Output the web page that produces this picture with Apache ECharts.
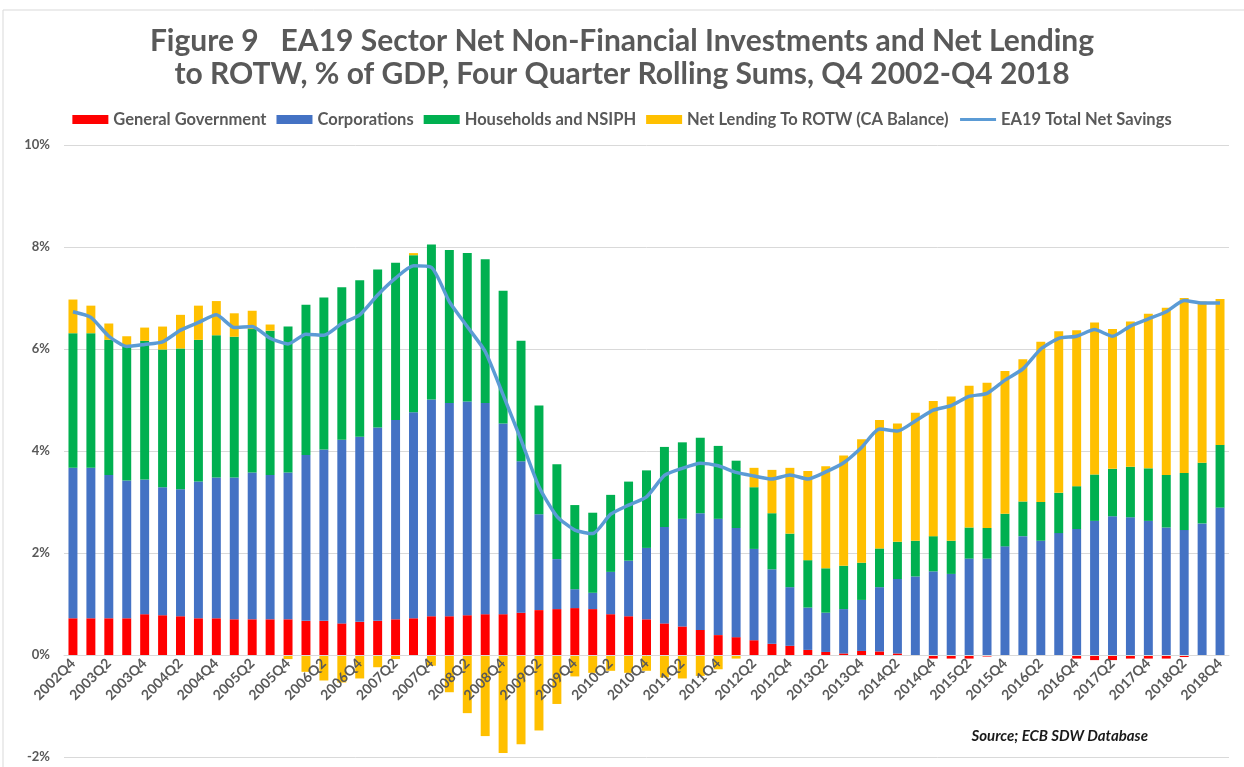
<!DOCTYPE html>
<html lang="en">
<head>
  <meta charset="UTF-8">
  <title>EA19 Sector Net Lending</title>
  <style>
    html, body { margin: 0; padding: 0; width: 100%; height: 100%; background: #fff; }
    #main { width: 1244px; height: 767px; }
  </style>
</head>
<body>
  <div id="main"></div>
  <script src="https://cdn.jsdelivr.net/npm/echarts@6/dist/echarts.min.js"></script>
  <script type="text/javascript">
    // quarters 2002Q4 .. 2018Q4
    const quarters = [
      '2002Q4',
      '2003Q1', '2003Q2', '2003Q3', '2003Q4',
      '2004Q1', '2004Q2', '2004Q3', '2004Q4',
      '2005Q1', '2005Q2', '2005Q3', '2005Q4',
      '2006Q1', '2006Q2', '2006Q3', '2006Q4',
      '2007Q1', '2007Q2', '2007Q3', '2007Q4',
      '2008Q1', '2008Q2', '2008Q3', '2008Q4',
      '2009Q1', '2009Q2', '2009Q3', '2009Q4',
      '2010Q1', '2010Q2', '2010Q3', '2010Q4',
      '2011Q1', '2011Q2', '2011Q3', '2011Q4',
      '2012Q1', '2012Q2', '2012Q3', '2012Q4',
      '2013Q1', '2013Q2', '2013Q3', '2013Q4',
      '2014Q1', '2014Q2', '2014Q3', '2014Q4',
      '2015Q1', '2015Q2', '2015Q3', '2015Q4',
      '2016Q1', '2016Q2', '2016Q3', '2016Q4',
      '2017Q1', '2017Q2', '2017Q3', '2017Q4',
      '2018Q1', '2018Q2', '2018Q3', '2018Q4'
    ];

    const generalGovernment = [
      0.72,
      0.72, 0.72, 0.72, 0.80,
      0.78, 0.76, 0.72, 0.72,
      0.70, 0.70, 0.70, 0.70,
      0.67, 0.67, 0.62, 0.65,
      0.67, 0.70, 0.72, 0.76,
      0.76, 0.78, 0.80, 0.80,
      0.83, 0.88, 0.90, 0.92,
      0.90, 0.80, 0.76, 0.70,
      0.62, 0.56, 0.49, 0.39,
      0.35, 0.29, 0.22, 0.18,
      0.10, 0.06, 0.03, 0.08,
      0.07, 0.03, -0.02, -0.07,
      -0.07, -0.07, -0.03, 0.00,
      0.00, 0.00, -0.02, -0.07,
      -0.10, -0.10, -0.07, -0.07,
      -0.07, -0.04, -0.02, 0.00
    ];

    const corporations = [
      2.95,
      2.95, 2.81, 2.70, 2.64,
      2.51, 2.49, 2.68, 2.76,
      2.78, 2.88, 2.83, 2.88,
      3.25, 3.36, 3.60, 3.63,
      3.79, 3.91, 4.04, 4.25,
      4.18, 4.19, 4.14, 3.74,
      2.97, 1.88, 0.98, 0.37,
      0.32, 0.83, 1.09, 1.40,
      1.89, 2.11, 2.29, 2.28,
      2.14, 1.79, 1.46, 1.15,
      0.83, 0.77, 0.87, 1.00,
      1.26, 1.46, 1.54, 1.64,
      1.59, 1.89, 1.89, 2.13,
      2.33, 2.24, 2.39, 2.47,
      2.63, 2.72, 2.70, 2.63,
      2.50, 2.45, 2.58, 2.89
    ];

    const households = [
      2.64,
      2.64, 2.65, 2.63, 2.72,
      2.70, 2.76, 2.78, 2.79,
      2.76, 2.81, 2.83, 2.86,
      2.95, 2.98, 2.99, 3.07,
      3.10, 3.08, 3.08, 3.04,
      3.00, 2.91, 2.82, 2.60,
      2.36, 2.13, 1.86, 1.65,
      1.57, 1.51, 1.55, 1.52,
      1.57, 1.50, 1.48, 1.43,
      1.32, 1.21, 1.10, 1.05,
      0.93, 0.87, 0.85, 0.73,
      0.76, 0.73, 0.70, 0.69,
      0.65, 0.61, 0.60, 0.64,
      0.68, 0.76, 0.79, 0.84,
      0.91, 0.93, 0.99, 1.03,
      1.03, 1.12, 1.19, 1.23
    ];

    const netLendingROTW = [
      0.66,
      0.54, 0.32, 0.20, 0.26,
      0.45, 0.66, 0.67, 0.67,
      0.46, 0.36, 0.12, -0.08,
      -0.33, -0.50, -0.54, -0.46,
      -0.24, -0.08, 0.04, -0.21,
      -0.73, -1.14, -1.59, -1.92,
      -1.75, -1.48, -0.96, -0.42,
      -0.35, -0.31, -0.35, -0.31,
      -0.44, -0.46, -0.41, -0.28,
      -0.07, 0.38, 0.85, 1.29,
      1.75, 2.00, 2.16, 2.42,
      2.52, 2.32, 2.51, 2.65,
      2.83, 2.78, 2.85, 2.80,
      2.79, 3.14, 3.17, 3.06,
      2.98, 2.74, 2.85, 3.03,
      3.28, 3.43, 3.16, 2.86
    ];

    const totalNetSavings = [
      6.73,
      6.62, 6.25, 6.05, 6.09,
      6.14, 6.37, 6.52, 6.67,
      6.42, 6.44, 6.21, 6.10,
      6.29, 6.27, 6.50, 6.67,
      7.06, 7.39, 7.63, 7.60,
      6.93, 6.44, 5.95, 5.10,
      4.22, 3.30, 2.72, 2.45,
      2.38, 2.76, 2.94, 3.10,
      3.52, 3.66, 3.76, 3.71,
      3.58, 3.51, 3.45, 3.53,
      3.45, 3.59, 3.77, 4.07,
      4.43, 4.39, 4.59, 4.80,
      4.89, 5.07, 5.13, 5.39,
      5.61, 6.00, 6.21, 6.25,
      6.38, 6.25, 6.45, 6.59,
      6.73, 6.95, 6.90, 6.90
    ];

    const textColor = '#595959';
    const fontName = 'Lato, "Open Sans", sans-serif';

    const yMin = -2, yMax = 10;
    const gridTop = 145, gridBottom = 10;
    // move the category labels up so they sit on the 0% line
    const plotH = 767 - gridTop - gridBottom;
    const zeroOffset = -plotH * (0 - yMin) / (yMax - yMin);

    function barSeries(name, data, color) {
      return {
        name: name,
        type: 'bar',
        stack: 'sectors',
        data: data,
        barWidth: '50%',
        itemStyle: { color: color },
        z: 2
      };
    }

    var myChart = echarts.init(document.getElementById('main'));

    var option = {
      animation: false,
      backgroundColor: '#fff',
      title: {
        text: 'Figure 9   EA19 Sector Net Non-Financial Investments and Net Lending\nto ROTW, % of GDP, Four Quarter Rolling Sums, Q4 2002-Q4 2018',
        left: 'center',
        top: 20,
        textStyle: {
          color: textColor,
          fontFamily: fontName,
          fontWeight: 'bold',
          fontSize: 30,
          lineHeight: 33
        }
      },
      legend: {
        top: 106,
        left: 'center',
        itemWidth: 36,
        itemHeight: 9,
        itemGap: 10,
        textStyle: { color: textColor, fontFamily: fontName, fontSize: 16.5, fontWeight: 'bold' },
        data: [
          { name: 'General Government', icon: 'rect' },
          { name: 'Corporations', icon: 'rect' },
          { name: 'Households and NSIPH', icon: 'rect' },
          { name: 'Net Lending To ROTW (CA Balance)', icon: 'rect' },
          { name: 'EA19 Total Net Savings', itemStyle: { opacity: 0 }, lineStyle: { width: 3 } }
        ]
      },
      grid: {
        left: 64, right: 15, top: gridTop, bottom: gridBottom,
        containLabel: false, outerBoundsMode: 'none'
      },
      xAxis: {
        type: 'category',
        data: quarters,
        offset: zeroOffset,
        z: 10,
        axisLine: { onZero: false, lineStyle: { color: '#d9d9d9', width: 1 } },
        axisTick: { show: false },
        axisLabel: {
          interval: 1,
          rotate: 45,
          color: textColor,
          fontFamily: fontName,
          fontWeight: 'bold',
          fontSize: 14,
          margin: 6
        }
      },
      yAxis: {
        type: 'value',
        min: yMin,
        max: yMax,
        interval: 2,
        axisLine: { show: false },
        axisTick: { show: false },
        splitLine: { lineStyle: { color: '#d9d9d9', width: 1 } },
        axisLabel: {
          formatter: '{value}%',
          color: textColor,
          fontFamily: fontName,
          fontWeight: 'bold',
          fontSize: 13,
          margin: 14
        }
      },
      series: [
        barSeries('General Government', generalGovernment, '#ff0000'),
        barSeries('Corporations', corporations, '#4472c4'),
        barSeries('Households and NSIPH', households, '#00b050'),
        barSeries('Net Lending To ROTW (CA Balance)', netLendingROTW, '#ffc000'),
        {
          name: 'EA19 Total Net Savings',
          type: 'line',
          data: totalNetSavings,
          symbol: 'none',
          smooth: 0.2,
          lineStyle: { color: '#5b9bd5', width: 3.5 },
          itemStyle: { color: '#5b9bd5' },
          z: 5
        }
      ],
      graphic: [
        {
          type: 'rect',
          shape: { x: 3, y: 10, width: 1260, height: 800 },
          style: { fill: 'none', stroke: '#d9d9d9', lineWidth: 1 },
          silent: true
        },
        {
          type: 'text',
          right: 96,
          top: 729,
          style: {
            text: 'Source; ECB SDW Database',
            fill: '#1a1a1a',
            font: 'italic bold 15px ' + fontName
          }
        }
      ]
    };

    myChart.setOption(option);
  </script>
</body>
</html>
